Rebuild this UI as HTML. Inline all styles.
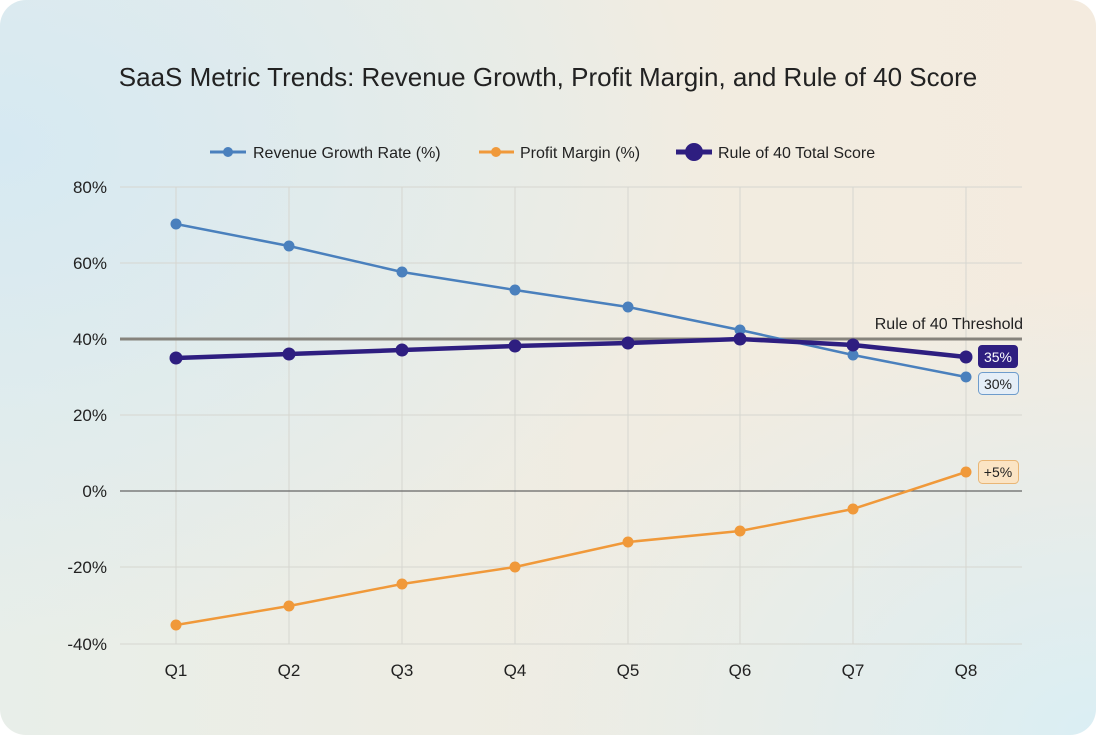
<!DOCTYPE html>
<html><head><meta charset="utf-8"><style>
html,body{margin:0;padding:0;background:#fff;}
.card{position:absolute;left:0;top:0;width:1096px;height:735px;border-radius:26px;overflow:hidden;
background:radial-gradient(ellipse 700px 500px at 0% 20%,rgba(214,233,242,1),rgba(214,233,242,0)),
radial-gradient(ellipse 600px 450px at 100% 100%,rgba(218,238,244,1),rgba(218,238,244,0)),
linear-gradient(90deg,#e8eee9 0%,#f2ece0 70%,#f4ebdf 100%);}
svg{position:absolute;left:0;top:0;font-family:"Liberation Sans",sans-serif;}
</style></head><body><div class="card">
<svg width="1096" height="735" viewBox="0 0 1096 735">
<text x="548" y="86" text-anchor="middle" font-size="26" fill="#222">SaaS Metric Trends: Revenue Growth, Profit Margin, and Rule of 40 Score</text>
<line x1="210" y1="152" x2="246" y2="152" stroke="#4a80bd" stroke-width="3"/><circle cx="228" cy="152" r="5" fill="#4a80bd"/>
<text x="253" y="158" font-size="16" fill="#222">Revenue Growth Rate (%)</text>
<line x1="479" y1="152" x2="514" y2="152" stroke="#f0993a" stroke-width="3"/><circle cx="496" cy="152" r="5" fill="#f0993a"/>
<text x="520" y="158" font-size="16" fill="#222">Profit Margin (%)</text>
<line x1="676" y1="152" x2="712" y2="152" stroke="#2e1e80" stroke-width="5"/><circle cx="694" cy="152" r="9" fill="#2e1e80"/>
<text x="718" y="158" font-size="16" fill="#222">Rule of 40 Total Score</text>
<g stroke="#d6d6d0" stroke-width="1">
<line x1="120" y1="187" x2="1022" y2="187"/><line x1="120" y1="263" x2="1022" y2="263"/>
<line x1="120" y1="415" x2="1022" y2="415"/><line x1="120" y1="567" x2="1022" y2="567"/>
<line x1="120" y1="644" x2="1022" y2="644"/>
<line x1="176" y1="187" x2="176" y2="644"/><line x1="289" y1="187" x2="289" y2="644"/>
<line x1="402" y1="187" x2="402" y2="644"/><line x1="515" y1="187" x2="515" y2="644"/>
<line x1="628" y1="187" x2="628" y2="644"/><line x1="740" y1="187" x2="740" y2="644"/>
<line x1="853" y1="187" x2="853" y2="644"/><line x1="966" y1="187" x2="966" y2="644"/>
</g>
<line x1="120" y1="491" x2="1022" y2="491" stroke="#666" stroke-width="1.2"/>
<line x1="120" y1="339" x2="1022" y2="339" stroke="#86837c" stroke-width="3"/>
<text x="1023" y="329" text-anchor="end" font-size="16" fill="#222">Rule of 40 Threshold</text>
<g font-size="17" fill="#222" text-anchor="end">
<text x="107" y="193">80%</text><text x="107" y="269">60%</text><text x="107" y="345">40%</text>
<text x="107" y="421">20%</text><text x="107" y="497">0%</text><text x="107" y="573">-20%</text><text x="107" y="650">-40%</text>
</g>
<g font-size="17" fill="#222" text-anchor="middle">
<text x="176" y="676">Q1</text><text x="289" y="676">Q2</text><text x="402" y="676">Q3</text><text x="515" y="676">Q4</text>
<text x="628" y="676">Q5</text><text x="740" y="676">Q6</text><text x="853" y="676">Q7</text><text x="966" y="676">Q8</text>
</g>
<polyline fill="none" stroke="#4a80bd" stroke-width="2.5" points="176,224 289,246 402,272 515,290 628,307 740,330 853,355 966,377"/>
<g fill="#4a80bd"><circle cx="176" cy="224" r="5.5"/><circle cx="289" cy="246" r="5.5"/><circle cx="402" cy="272" r="5.5"/><circle cx="515" cy="290" r="5.5"/><circle cx="628" cy="307" r="5.5"/><circle cx="740" cy="330" r="5.5"/><circle cx="853" cy="355" r="5.5"/><circle cx="966" cy="377" r="5.5"/></g>
<polyline fill="none" stroke="#f0993a" stroke-width="2.5" points="176,625 289,606 402,584 515,567 628,542 740,531 853,509 966,472"/>
<g fill="#f0993a"><circle cx="176" cy="625" r="5.5"/><circle cx="289" cy="606" r="5.5"/><circle cx="402" cy="584" r="5.5"/><circle cx="515" cy="567" r="5.5"/><circle cx="628" cy="542" r="5.5"/><circle cx="740" cy="531" r="5.5"/><circle cx="853" cy="509" r="5.5"/><circle cx="966" cy="472" r="5.5"/></g>
<polyline fill="none" stroke="#2e1e80" stroke-width="4.5" points="176,358 289,354 402,350 515,346 628,343 740,339 853,345 966,357"/>
<g fill="#2e1e80"><circle cx="176" cy="358" r="6.5"/><circle cx="289" cy="354" r="6.5"/><circle cx="402" cy="350" r="6.5"/><circle cx="515" cy="346" r="6.5"/><circle cx="628" cy="343" r="6.5"/><circle cx="740" cy="339" r="6.5"/><circle cx="853" cy="345" r="6.5"/><circle cx="966" cy="357" r="6.5"/></g>
<rect x="978" y="345" width="40" height="23" rx="4" fill="#2e1e80"/>
<text x="998" y="362" text-anchor="middle" font-size="14" fill="#fff">35%</text>
<rect x="978.5" y="372.5" width="40" height="22" rx="4" fill="#e5eef7" stroke="#6e9ccc"/>
<text x="998" y="389" text-anchor="middle" font-size="14" fill="#222">30%</text>
<rect x="978.5" y="460.5" width="40" height="23" rx="4" fill="#fbe4c4" stroke="#e9b676"/>
<text x="998" y="477" text-anchor="middle" font-size="14" fill="#222">+5%</text>
</svg></div></body></html>
